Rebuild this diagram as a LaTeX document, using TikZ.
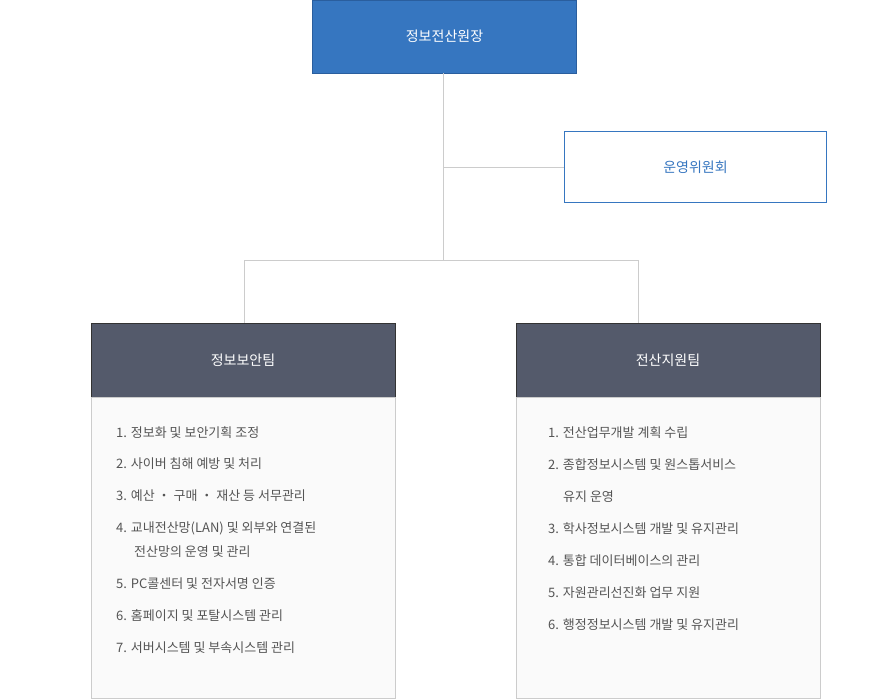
\documentclass[tikz,border=0pt]{standalone}
\usepackage{fontspec}
\setmainfont{Noto Sans CJK KR}
\definecolor{topblue}{HTML}{3676C0}
\definecolor{topedge}{HTML}{2A5E9E}
\definecolor{teamgray}{HTML}{545A6B}
\definecolor{linegray}{HTML}{CCCCCC}
\definecolor{txtgray}{HTML}{555555}
\begin{document}
\begin{tikzpicture}[x=1pt,y=-1pt,
  topbox/.style={draw=topedge,fill=topblue,text=white,minimum width=264pt,minimum height=73pt,font=\fontsize{14}{16}\selectfont},
  combox/.style={draw=topblue,line width=1.2pt,fill=white,text=topblue,minimum width=262pt,minimum height=71pt,font=\fontsize{14}{16}\selectfont},
  teambox/.style={draw=black!80,fill=teamgray,text=white,minimum width=304pt,minimum height=74pt,font=\fontsize{14}{16}\selectfont},
  listbox/.style={draw=linegray,fill=black!2,minimum width=304pt,minimum height=301pt},
  conn/.style={draw=linegray,line width=0.8pt},
  item/.style={anchor=west,text=txtgray,font=\fontsize{13}{15}\selectfont,inner sep=0pt}]
\useasboundingbox (0,0) rectangle (895,699);
\node[topbox] (top) at (444.5,36.5) {정보전산원장};
\node[combox] (com) at (695.5,167) {운영위원회};
\node[teambox] (t1) at (243,360) {정보보안팀};
\node[teambox] (t2) at (668,360) {전산지원팀};
\node[listbox,anchor=north] (l1) at (t1.south) {};
\node[listbox,anchor=north] (l2) at (t2.south) {};
\coordinate (j1) at (443,167);
\coordinate (j2) at (443,260);
\coordinate (b1) at (244,260);
\coordinate (b2) at (638,260);
\draw[conn] (top.south -| j1) -- (j2);
\draw[conn] (j1) -- (com.west);
\draw[conn] (b1) -- (b2);
\draw[conn] (b1) -- (b1 |- t1.north);
\draw[conn] (b2) -- (b2 |- t2.north);
\node[item] (a1) at (116,433) {1. 정보화 및 보안기획 조정};
\node[item] (a2) at (116,464) {2. 사이버 침해 예방 및 처리};
\node[item] (a3) at (116,496) {3. 예산 ・ 구매 ・ 재산 등 서무관리};
\node[item] (a4) at (116,528) {4. 교내전산망(LAN) 및 외부와 연결된};
\node[item] (a4b) at (134,552) {전산망의 운영 및 관리};
\node[item] (a5) at (116,584) {5. PC콜센터 및 전자서명 인증};
\node[item] (a6) at (116,616) {6. 홈페이지 및 포탈시스템 관리};
\node[item] (a7) at (116,648) {7. 서버시스템 및 부속시스템 관리};
\node[item] (c1) at (548,433) {1. 전산업무개발 계획 수립};
\node[item] (c2) at (548,465) {2. 종합정보시스템 및 원스톱서비스};
\node[item] (c2b) at (563,497) {유지 운영};
\node[item] (c3) at (548,529) {3. 학사정보시스템 개발 및 유지관리};
\node[item] (c4) at (548,561) {4. 통합 데이터베이스의 관리};
\node[item] (c5) at (548,593) {5. 자원관리선진화 업무 지원};
\node[item] (c6) at (548,625) {6. 행정정보시스템 개발 및 유지관리};
\end{tikzpicture}
\end{document}
